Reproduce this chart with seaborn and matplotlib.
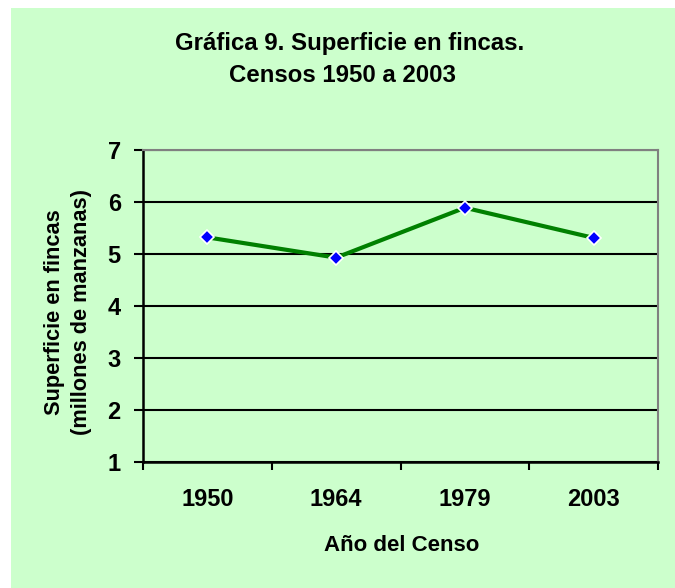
import numpy as np
import pandas as pd
import matplotlib
matplotlib.use("Agg")
import matplotlib.pyplot as plt
from matplotlib.patches import Rectangle
import seaborn as sns

# datos de la grafica
years = ["1950", "1964", "1979", "2003"]
superficie = [5.32, 4.93, 5.89, 5.31]   # millones de manzanas
y_ticks = [1, 2, 3, 4, 5, 6, 7]

title_1 = "Gráfica 9. Superficie en fincas."
title_2 = "Censos 1950 a 2003"
x_label = "Año del Censo"
y_label = "Superficie en fincas\n(millones de manzanas)"

verde_fondo = "#CCFFCC"
verde_linea = "#008000"
azul_marca = "#0000FF"

sns.set_style("ticks")
plt.rcParams["font.family"] = ["Liberation Sans", "DejaVu Sans"]
plt.rcParams["font.weight"] = "bold"
plt.rcParams["text.color"] = "black"
plt.rcParams["xtick.labelcolor"] = "black"
plt.rcParams["ytick.labelcolor"] = "black"

df = pd.DataFrame({"anio": years, "superficie": superficie})

W, H = 675, 588
fig = plt.figure(figsize=(W / 100, H / 100), dpi=100)
fig.patch.set_facecolor("white")
fig.add_artist(Rectangle((11 / W, 0), 1 - 11 / W, 1 - 8 / H,
                         transform=fig.transFigure, facecolor=verde_fondo,
                         edgecolor="none", zorder=-1))

ax = fig.add_axes([143 / W, 126 / H, 515 / W, 312 / H])
ax.set_facecolor(verde_fondo)

sns.lineplot(data=df, x="anio", y="superficie", ax=ax, sort=False,
             color=verde_linea, linewidth=3, marker="D", markersize=7.5,
             markerfacecolor=azul_marca, markeredgecolor="white",
             markeredgewidth=1.2, zorder=3)

ax.set_xlim(-0.5, len(years) - 0.5)
ax.set_ylim(1, 7)
ax.set_yticks(y_ticks)
ax.set_xticks(range(len(years)))
ax.set_xticklabels(years)
ax.set_xticks(np.arange(-0.5, len(years)), minor=True)

ax.yaxis.grid(True, color="black", linewidth=1.5)
ax.set_axisbelow(True)

for s in ["left", "bottom"]:
    ax.spines[s].set_color("black")
    ax.spines[s].set_linewidth(1.8)
for s in ["top", "right"]:
    ax.spines[s].set_color("#808080")
    ax.spines[s].set_linewidth(1.5)

ax.tick_params(axis="x", which="major", length=0, pad=19, labelsize=17,
               labelcolor="black")
ax.tick_params(axis="x", which="minor", length=6, width=1.5, direction="out",
               color="black")
ax.tick_params(axis="y", length=6.5, width=1.5, direction="out", pad=9.5,
               labelsize=17, color="black", labelcolor="black")

ax.set_xlabel("")
ax.set_ylabel("")

fig.text(350 / W, 1 - 50 / H, title_1, ha="center", va="baseline",
         fontsize=17.3, fontweight="bold", color="black")
fig.text(342 / W, 1 - 81.7 / H, title_2, ha="center", va="baseline",
         fontsize=17.3, fontweight="bold", color="black")
fig.text(402 / W, 1 - 551 / H, x_label, ha="center", va="baseline",
         fontsize=16, fontweight="bold", color="black")
fig.text(68 / W, 1 - 312 / H, y_label, ha="center", va="center",
         rotation=90, multialignment="center", linespacing=1.4,
         fontsize=15.7, fontweight="bold", color="black")

fig.savefig("out.png", dpi=100, facecolor=fig.get_facecolor())
plt.close(fig)
